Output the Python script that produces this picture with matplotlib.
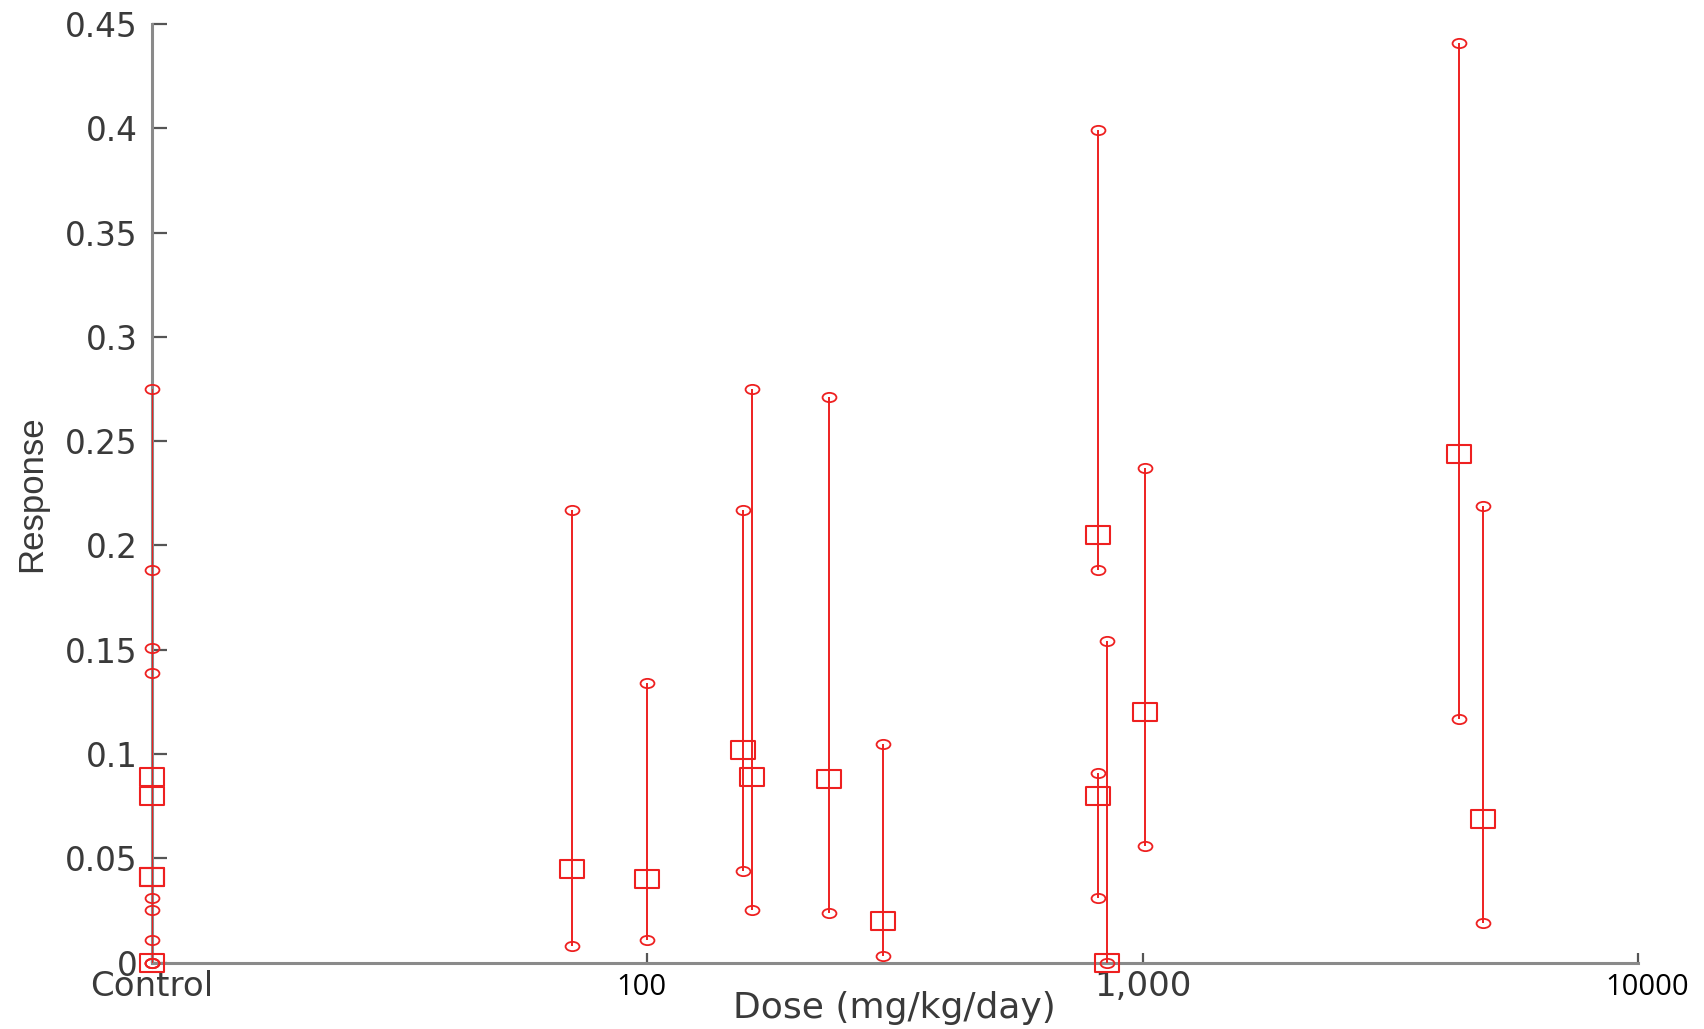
import matplotlib
matplotlib.use("Agg")
import matplotlib.pyplot as plt
from matplotlib.path import Path
from matplotlib.transforms import ScaledTranslation
import numpy as np

# ---- data ----
dose = [10, 10, 10, 10, 10, 70.6, 100, 156, 163, 233, 299, 812, 812, 849, 1010, 4350, 4860]
low  = [0.011, 0.025, 0.031, 0.000, 0.000, 0.008, 0.011, 0.044, 0.025, 0.024, 0.003,
        0.188, 0.031, 0.000, 0.056, 0.117, 0.019]
mean = [0.089, 0.080, 0.041, 0.041, 0.000, 0.045, 0.040, 0.102, 0.089, 0.088, 0.020,
        0.205, 0.080, 0.000, 0.120, 0.244, 0.069]
high = [0.275, 0.188, 0.151, 0.139, 0.000, 0.217, 0.134, 0.217, 0.275, 0.271, 0.105,
        0.399, 0.091, 0.154, 0.237, 0.441, 0.219]

x_ticks = [10, 100, 1000, 10000]
x_tick_labels = ["Control", "100", "1,000", "10000"]
y_ticks = [0, 0.05, 0.1, 0.15, 0.2, 0.25, 0.3, 0.35, 0.4, 0.45]
y_tick_labels = ["0", "0.05", "0.1", "0.15", "0.2", "0.25", "0.3", "0.35", "0.4", "0.45"]

RED = "#ee2020"
TXT = "#3a3a3a"
AX = "#8a8a8a"

# horizontally stretched marker shapes (the reference is stretched sideways)
circ = Path.unit_circle()
ellipse_marker = Path(circ.vertices * np.array([1.5, 1.0]), circ.codes)
rect_marker = Path([(-1.35, -1), (1.35, -1), (1.35, 1), (-1.35, 1), (-1.35, -1)],
                   [Path.MOVETO, Path.LINETO, Path.LINETO, Path.LINETO, Path.CLOSEPOLY])

fig = plt.figure(figsize=(17.04, 10.29), dpi=100)
ax = fig.add_axes([0.089, 0.0645, 0.8723, 0.9122])

ax.set_xscale("log")
ax.set_xlim(10, 10000)
ax.set_ylim(0, 0.45)

ax.vlines(dose, low, high, colors=RED, linewidth=1.4, zorder=3)
ax.plot(dose, low, linestyle="none", marker=ellipse_marker, markersize=10,
        markerfacecolor="none", markeredgecolor=RED, markeredgewidth=1.3, zorder=4, clip_on=False)
ax.plot(dose, high, linestyle="none", marker=ellipse_marker, markersize=10,
        markerfacecolor="none", markeredgecolor=RED, markeredgewidth=1.3, zorder=4, clip_on=False)
ax.plot(dose, mean, linestyle="none", marker=rect_marker, markersize=17,
        markerfacecolor="none", markeredgecolor=RED, markeredgewidth=1.5, zorder=5, clip_on=False)

for s in ["top", "right"]:
    ax.spines[s].set_visible(False)
for s in ["left", "bottom"]:
    ax.spines[s].set_color(AX)
    ax.spines[s].set_linewidth(2.2)

ax.set_yticks(y_ticks)
ax.set_yticklabels(y_tick_labels)
ax.tick_params(axis="y", direction="in", length=11, width=1.6, color="#555555",
               pad=10, labelsize=23.5, labelcolor=TXT)

ax.set_xticks(x_ticks)
ax.set_xticklabels(x_tick_labels)
ax.xaxis.set_minor_locator(matplotlib.ticker.NullLocator())
ax.tick_params(axis="x", direction="in", length=7, width=1.6, color="#555555",
               pad=5, labelsize=24.5, labelcolor=TXT)
for lab in ax.get_xticklabels():
    t = lab.get_text()
    if t in ("100", "10000"):
        lab.set_fontfamily(["Open Sans", "DejaVu Sans"])
        lab.set_fontsize(21)
        lab.set_color("black")
        dx = -6 / 100 if t == "100" else 9 / 100
        lab.set_transform(lab.get_transform() + ScaledTranslation(dx, -3 / 100, fig.dpi_scale_trans))

ax.set_xlabel("Dose (mg/kg/day)", fontsize=26, color=TXT)
ax.xaxis.set_label_coords(0.5, -0.0585)
ax.xaxis.label.set_verticalalignment("baseline")
ax.set_ylabel("Response", fontsize=25, color=TXT, labelpad=12,
              family=["Liberation Sans Narrow", "Liberation Sans", "DejaVu Sans"])

fig.savefig("out.png", dpi=100, facecolor="white")
